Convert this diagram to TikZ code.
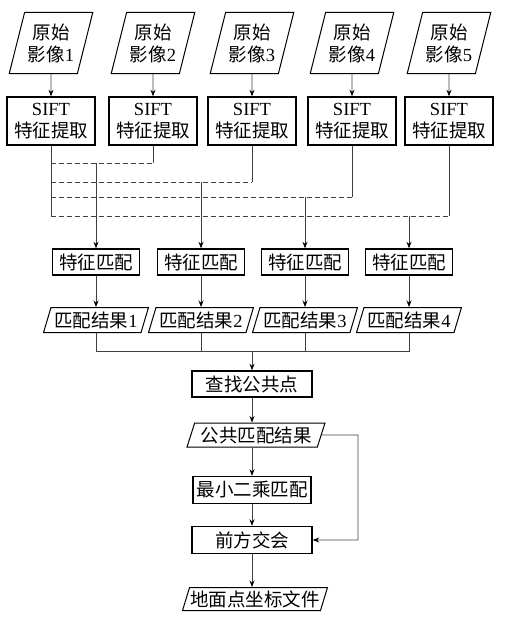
\documentclass[tikz,border=0pt]{standalone}
\usepackage{fontspec}
\setmainfont{Liberation Serif}
\newfontfamily\cjk{Noto Sans CJK SC}
\usetikzlibrary{shapes.geometric,arrows.meta}
\tikzset{
  txt/.style={font=\cjk\fontsize{18.5}{22}\selectfont,align=center,inner sep=0pt},
  box/.style={txt,draw,line width=1.4pt},
  data/.style={txt,draw,line width=1pt,trapezium,trapezium stretches=true,
    trapezium left angle=#1,trapezium right angle=180-#1},
  data/.default=70,
  conn/.style={draw=black!75,line width=0.8pt},
  arr/.style={conn,-{Stealth[length=6.5pt,width=5pt,black]}},
  dline/.style={conn,dash pattern=on 5pt off 3pt}
}
\begin{document}
\begin{tikzpicture}[x=1pt,y=-1pt]
\useasboundingbox (0,0) rectangle (504,618);
% original images
\path (51,43) node (p1) [data=71,minimum width=84pt,minimum height=61pt] {原始\\影像\textrm{1}}
  (153,43) node (p2) [data=71,minimum width=84pt,minimum height=61pt] {原始\\影像\textrm{2}}
  (252,43) node (p3) [data=71,minimum width=84pt,minimum height=61pt] {原始\\影像\textrm{3}}
  (352,43) node (p4) [data=71,minimum width=84pt,minimum height=61pt] {原始\\影像\textrm{4}}
  (449,43) node (p5) [data=71,minimum width=84pt,minimum height=61pt] {原始\\影像\textrm{5}};
% sift boxes
\path (51,121) node (s1) [box,minimum width=88pt,minimum height=48pt] {\textrm{SIFT}\\特征提取}
  (153,121) node (s2) [box,minimum width=88pt,minimum height=48pt] {\textrm{SIFT}\\特征提取}
  (252,121) node (s3) [box,minimum width=88pt,minimum height=48pt] {\textrm{SIFT}\\特征提取}
  (352,121) node (s4) [box,minimum width=88pt,minimum height=48pt] {\textrm{SIFT}\\特征提取}
  (449,121) node (s5) [box,minimum width=88pt,minimum height=48pt] {\textrm{SIFT}\\特征提取};
% matching
\path (96,262) node (m1) [box,minimum width=87pt,minimum height=26pt] {特征匹配}
  (201,262) node (m2) [box,minimum width=87pt,minimum height=26pt] {特征匹配}
  (305,262) node (m3) [box,minimum width=87pt,minimum height=26pt] {特征匹配}
  (409,262) node (m4) [box,minimum width=87pt,minimum height=26pt] {特征匹配};
\path (96,320) node (r1) [data=68,minimum width=105pt,minimum height=25pt] {匹配结果\textrm{1}}
  (201,320) node (r2) [data=68,minimum width=105pt,minimum height=25pt] {匹配结果\textrm{2}}
  (305,320) node (r3) [data=68,minimum width=105pt,minimum height=25pt] {匹配结果\textrm{3}}
  (409,320) node (r4) [data=68,minimum width=105pt,minimum height=25pt] {匹配结果\textrm{4}};
% lower chain
\path (252,384) node (q) [box,minimum width=120pt,minimum height=26pt] {查找公共点}
  (256,435) node (c) [data=68,minimum width=138pt,minimum height=24pt] {公共匹配结果}
  (252,490) node (ls) [box,minimum width=118pt,minimum height=27pt] {最小二乘匹配}
  (252,540) node (fi) [box,minimum width=120pt,minimum height=27pt] {前方交会}
  (255,599) node (g) [data=68,minimum width=145pt,minimum height=23pt] {地面点坐标文件};
\foreach \i in {1,...,5} \draw[arr] (p\i) -- (s\i);
% dashed pairing lines
\coordinate (k1) at (51,163);
\coordinate (k2) at (51,182);
\coordinate (k3) at (51,197);
\coordinate (k4) at (51,216);
\draw[conn] (s1) -- (k4);
\draw[conn] (s2) -- (s2 |- k1);
\draw[conn] (s3) -- (s3 |- k2);
\draw[conn] (s4) -- (s4 |- k3);
\draw[conn] (s5) -- (s5 |- k4);
\draw[dline] (k1) -- (s2 |- k1);
\draw[dline] (k2) -- (s3 |- k2);
\draw[dline] (k3) -- (s4 |- k3);
\draw[dline] (k4) -- (s5 |- k4);
\draw[arr] (m1 |- k1) -- (m1);
\draw[arr] (m2 |- k2) -- (m2);
\draw[arr] (m3 |- k3) -- (m3);
\draw[arr] (m4 |- k4) -- (m4);
\foreach \i in {1,...,4} \draw[arr] (m\i) -- (r\i);
% merge
\coordinate (h) at (252,351);
\draw[conn] (r1) -- (r1 |- h) -- (r4 |- h) -- (r4);
\draw[conn] (r2) -- (r2 |- h);
\draw[conn] (r3) -- (r3 |- h);
\draw[arr] (h) -- (q);
\draw[arr] (q) -- (q |- c.north);
\draw[arr] (q |- c.south) -- (ls);
\draw[arr] (ls) -- (fi);
\draw[arr] (fi) -- (fi |- g.north);
\coordinate (b) at (358,435);
\draw[arr] (c.east) -- (b) |- (fi);
\end{tikzpicture}
\end{document}
